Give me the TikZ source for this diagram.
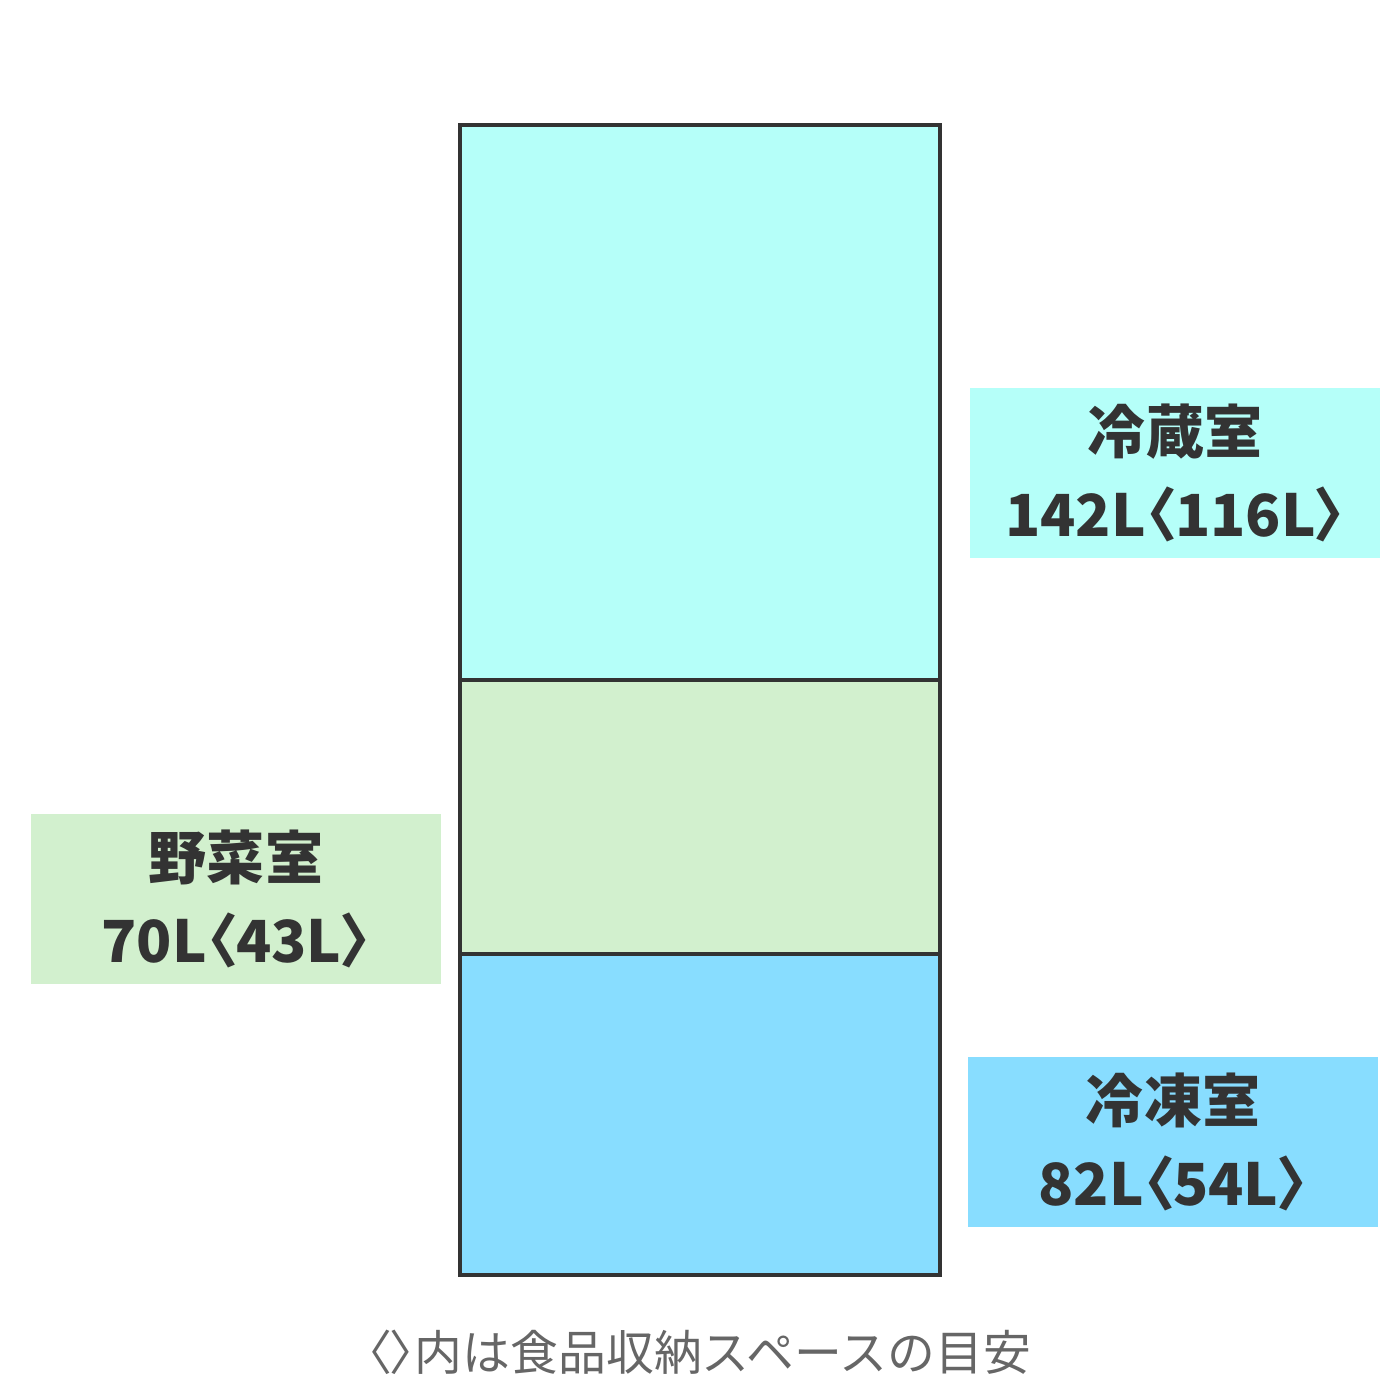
\documentclass[tikz,border=0pt]{standalone}
\usepackage{fontspec}
\setmainfont{Noto Sans CJK JP}
\usepackage{tikz}

\definecolor{coldC}{HTML}{B5FFF9}
\definecolor{vegC}{HTML}{D2F0CE}
\definecolor{frzC}{HTML}{88DDFF}
\definecolor{inkC}{HTML}{333333}
\definecolor{noteC}{HTML}{666666}

% narrow brackets
\newcommand{\lbrk}{{\addfontfeatures{RawFeature=+palt}〈}}
\newcommand{\rbrk}{{\addfontfeatures{RawFeature=+palt}〉}}

\tikzset{
  room/.style={rectangle,draw=inkC,line width=0.04cm,minimum width=4.8cm,inner sep=0pt},
  tag/.style={rectangle,minimum width=4.1cm,minimum height=1.7cm,inner sep=0pt,align=center,
    text=inkC,font=\bfseries\fontsize{16.5pt}{23.6pt}\selectfont}
}

\begin{document}
\begin{tikzpicture}[x=0.01cm,y=-0.01cm]
\useasboundingbox (0,0) rectangle (1400,1400);
\node (coldR) at (700,402.5) [room,fill=coldC,minimum height=5.55cm] {};
\node (vegR)  at (700,817)   [room,fill=vegC,minimum height=2.74cm] {};
\node (frzR)  at (700,1114.5) [room,fill=frzC,minimum height=3.21cm] {};
\node (coldL) at (1175,473)  [tag,fill=coldC] {冷蔵室\\142L\lbrk 116L\rbrk};
\node (vegL)  at (236,899)   [tag,fill=vegC]  {野菜室\\70L\lbrk 43L\rbrk};
\node (frzL)  at (1173,1142) [tag,fill=frzC]  {冷凍室\\82L\lbrk 54L\rbrk};
\node (note)  at (699,1352)  [text=noteC,font=\fontsize{13.6pt}{16pt}\selectfont] {\lbrk\rbrk 内は食品収納スペースの目安};
\end{tikzpicture}
\end{document}
